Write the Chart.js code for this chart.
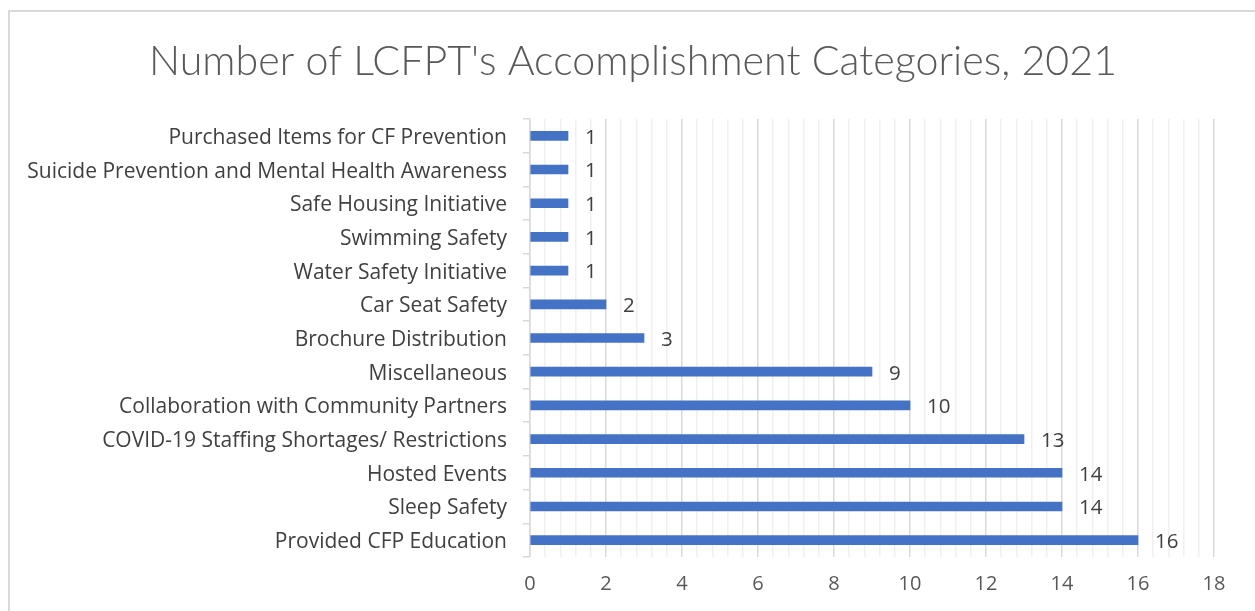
<!DOCTYPE html>
<html>
<head>
<meta charset="utf-8">
<script src="https://cdn.jsdelivr.net/npm/chart.js@4/dist/chart.umd.min.js"></script>
<style>
  html, body { margin: 0; padding: 0; background: #fff; }
  #frame { position: absolute; left: 8px; top: 10px; width: 1247px; height: 601px;
           border-top: 2px solid #d9d9d9; border-left: 2px solid #d9d9d9; box-sizing: border-box; }
  #wrap { position: absolute; left: 0; top: 0; width: 1255px; height: 611px; }
</style>
</head>
<body>
<div id="frame"></div>
<div id="wrap"><canvas id="myChart"></canvas></div>
<script>
const chartTitle = "Number of LCFPT's Accomplishment Categories, 2021";

const categories = [
  "Purchased Items for CF Prevention",
  "Suicide Prevention and Mental Health Awareness",
  "Safe Housing Initiative",
  "Swimming Safety",
  "Water Safety Initiative",
  "Car Seat Safety",
  "Brochure Distribution",
  "Miscellaneous",
  "Collaboration with Community Partners",
  "COVID-19 Staffing Shortages/ Restrictions",
  "Hosted Events",
  "Sleep Safety",
  "Provided CFP Education"
];

const counts = [1, 1, 1, 1, 1, 2, 3, 9, 10, 13, 14, 14, 16];

const xTickLabels = [0, 2, 4, 6, 8, 10, 12, 14, 16, 18];

const isMajor = v => xTickLabels.some(t => Math.abs(t - v) < 1e-6);

const FONT = '"Open Sans", Lato, sans-serif';

// title centred on the page, like the original
const titlePlugin = {
  id: 'titlePlugin',
  afterDraw(chart) {
    const ctx = chart.ctx;
    ctx.save();
    ctx.font = '300 41.2px Lato, sans-serif';
    ctx.fillStyle = '#595959';
    ctx.textAlign = 'center';
    ctx.textBaseline = 'middle';
    ctx.fillText(chartTitle, 633, 62);
    ctx.restore();
  }
};

// value labels after the end of each bar
const barLabels = {
  id: 'barLabels',
  afterDatasetsDraw(chart) {
    const ctx = chart.ctx;
    const meta = chart.getDatasetMeta(0);
    ctx.save();
    ctx.font = '20.5px ' + FONT;
    ctx.fillStyle = '#404040';
    ctx.textAlign = 'left';
    ctx.textBaseline = 'middle';
    meta.data.forEach((bar, i) => {
      ctx.fillText(String(counts[i]), bar.x + 17, bar.y + 2);
    });
    ctx.restore();
  }
};

const ctx = document.getElementById('myChart').getContext('2d');
new Chart(ctx, {
  type: 'bar',
  data: {
    labels: categories,
    datasets: [{
      data: counts,
      backgroundColor: '#4472C4',
      borderWidth: 0,
      barThickness: 9
    }]
  },
  options: {
    indexAxis: 'y',
    responsive: true,
    maintainAspectRatio: false,
    animation: false,
    layout: { padding: { left: 0, right: 41, top: 119, bottom: 0 } },
    plugins: {
      legend: { display: false },
      tooltip: { enabled: false },
      title: { display: false }
    },
    scales: {
      x: {
        min: 0,
        max: 18,
        ticks: {
          stepSize: 0.4,
          autoSkip: false,
          maxRotation: 0,
          padding: 15,
          color: '#595959',
          font: { family: FONT, size: 20 },
          callback: v => isMajor(v) ? String(Math.round(v)) : ''
        },
        grid: {
          drawTicks: false,
          color: c => isMajor(c.tick.value) ? '#d9d9d9' : '#f0f0f0',
          lineWidth: 1.5
        },
        border: { display: false },
        afterFit: s => { s.height = 54; }
      },
      y: {
        ticks: {
          color: '#404040',
          padding: 16,
          labelOffset: 2,
          font: { family: FONT, size: 21 }
        },
        grid: {
          drawOnChartArea: false,
          color: '#d9d9d9',
          tickLength: 7,
          lineWidth: 1.5
        },
        border: { color: '#d9d9d9', width: 1.5 },
        afterFit: s => { s.width = 530; }
      }
    }
  },
  plugins: [barLabels, titlePlugin]
});
</script>
</body>
</html>
